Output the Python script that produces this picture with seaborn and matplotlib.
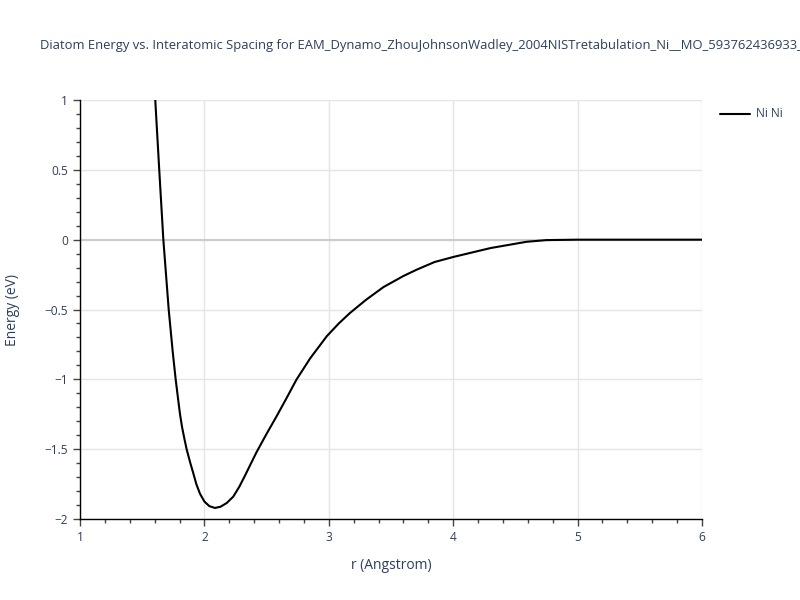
import numpy as np
import pandas as pd
import matplotlib
matplotlib.use("Agg")
import matplotlib.pyplot as plt
from matplotlib.ticker import MultipleLocator
import seaborn as sns

# values
r_vals = [1.605, 1.637, 1.67, 1.713, 1.745, 1.769, 1.787, 1.804, 1.82, 1.838, 1.857, 1.887,
          1.91, 1.935, 1.965, 2.0, 2.04, 2.085, 2.13, 2.18, 2.232, 2.28, 2.326, 2.37,
          2.42, 2.5, 2.58, 2.66, 2.74, 2.85, 2.983, 3.08, 3.17, 3.3, 3.44, 3.6,
          3.706, 3.85, 4.0, 4.3, 4.59, 4.75, 5.0, 5.5, 6.0]
energy_vals = [1.0, 0.5, 0.0, -0.5, -0.8, -1.0, -1.13, -1.25, -1.34, -1.42, -1.5, -1.6,
               -1.67, -1.75, -1.82, -1.875, -1.908, -1.921, -1.912, -1.885, -1.84, -1.77, -1.69, -1.61,
               -1.52, -1.39, -1.265, -1.135, -1.002, -0.85, -0.692, -0.6, -0.525, -0.43, -0.339, -0.26,
               -0.215, -0.16, -0.124, -0.06, -0.015, -0.003, 0.0, 0.0, 0.0]
pair_name = "Ni Ni"
title = "Diatom Energy vs. Interatomic Spacing for EAM_Dynamo_ZhouJohnsonWadley_2004NISTretabulation_Ni__MO_593762436933_000"

sns.set_style("white")
plt.rcParams['font.family'] = ['Open Sans', 'DejaVu Sans']
text_col = "#2a3f5f"

df = pd.DataFrame({"r": r_vals, "E": energy_vals, "pair": pair_name})

fig = plt.figure(figsize=(8, 6), dpi=100)
ax = fig.add_axes([0.1, 0.135, 0.7775, 0.6983])

ax.axhline(0, color="#cccccc", lw=1.5, zorder=1)
sns.lineplot(data=df, x="r", y="E", hue="pair", palette=["black"], linewidth=1.5,
             ax=ax, legend=False, zorder=3, sort=False)

ax.set_xlim(1, 6)
ax.set_ylim(-2, 1)
ax.xaxis.set_major_locator(MultipleLocator(1))
ax.xaxis.set_minor_locator(MultipleLocator(0.2))
ax.yaxis.set_major_locator(MultipleLocator(0.5))
ax.yaxis.set_minor_locator(MultipleLocator(0.1))
ax.grid(True, which="major", color="#e5e5e5", lw=1)
ax.set_axisbelow(True)

for s in ["top", "right"]:
    ax.spines[s].set_visible(False)
for s in ["left", "bottom"]:
    ax.spines[s].set_color("black")
    ax.spines[s].set_linewidth(1)

ax.tick_params(which="major", direction="out", length=5, width=1, color="#444444",
               labelsize=8.6, labelcolor=text_col, left=True, bottom=True)
ax.tick_params(which="minor", direction="out", length=3, width=1, color="#444444",
               left=True, bottom=True)
ax.set_yticks([1, 0.5, 0, -0.5, -1, -1.5, -2])
ax.set_yticklabels(["1", "0.5", "0", "\u22120.5", "\u22121", "\u22121.5", "\u22122"])

ax.set_xlabel("r (Angstrom)", fontsize=10, color=text_col, labelpad=10)
ax.set_ylabel("Energy (eV)", fontsize=10, color=text_col, labelpad=18)

fig.text(0.05, 0.925, title, fontsize=9.4, color=text_col, ha="left", va="center")

# legend
fig.lines.append(plt.Line2D([0.9, 0.9375], [0.81, 0.81], color="black", lw=1.5,
                            transform=fig.transFigure))
fig.text(0.945, 0.81, pair_name, fontsize=8.6, color=text_col, ha="left", va="center")

fig.savefig("out.png", dpi=100)
